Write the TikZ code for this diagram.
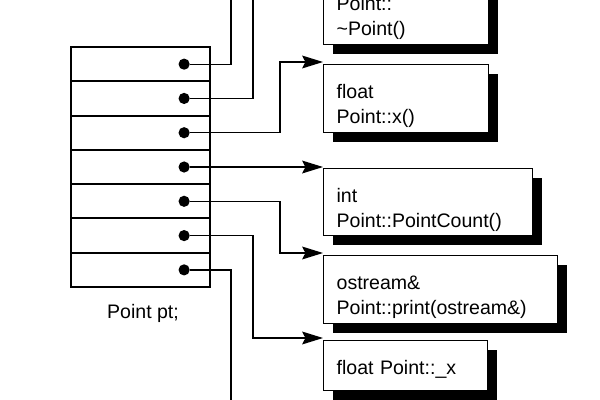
\documentclass[tikz,border=0pt]{standalone}
\usepackage{fontspec}
\setmainfont{Liberation Sans}
\usetikzlibrary{arrows.meta,shadows}

\begin{document}
\begin{tikzpicture}[x=0.025cm,y=-0.025cm,
		font=\fontsize{13.9}{17.4}\selectfont,
		slot/.style={draw,line width=1.4pt,minimum width=3.475cm,minimum height=0.857cm,inner sep=0pt},
		dot/.style={circle,fill,inner sep=0pt,minimum size=0.28cm},
		fn/.style={draw,line width=0.9pt,fill=white,anchor=north west,align=left,inner xsep=0.325cm,inner ysep=0pt,text height=0.85cm,text depth=0.85cm,drop shadow={shadow xshift=0.24cm,shadow yshift=-0.24cm,fill=black,opacity=1}},
		ptr/.style={line width=0.9pt},
		tip/.style={ptr,-{Stealth[length=0.52cm,width=0.32cm,inset=0.08cm]}}]
		\useasboundingbox (0,0) rectangle (600,400);
		\clip (0,0) rectangle (600,400);
		\foreach \i in {1,...,7}{
			\node[slot] (r\i) at (140.5,{47+34.29*(\i-0.5)}) {};
			\node[dot] (d\i) at ([xshift=1.09cm]r\i.center) {};
		}
		\node (pt) at (143,313) {Point pt;};
		\node[fn,text width=3.475cm] (b1) at (323,-24) {Point::\\\textasciitilde Point()};
		\node[fn,text width=3.475cm] (b2) at (323,64) {float\\Point::x()};
		\node[fn,text width=4.575cm,text depth=0.825cm] (b3) at (323,168) {int\\Point::PointCount()};
		\node[fn,text width=5.2cm] (b4) at (323,255) {ostream\&\\Point::print(ostream\&)};
		\node[fn,text width=3.45cm,text depth=0.4cm] (b5) at (323,340) {float Point::\_x};
		\coordinate (up1) at (231,-5);
		\coordinate (up2) at (253,-5);
		\coordinate (dn7) at (231,405);
		\draw[ptr] (d1) -| (up1);
		\draw[ptr] (d2) -| (up2);
		\draw[tip] (d3) -- ++(96,0) |- ([yshift=0.05cm]b2.north west);
		\draw[tip] (d4) -- (d4 -| b3.west);
		\draw[tip] (d5) -- ++(96,0) |- ([yshift=0.05cm]b4.north west);
		\draw[tip] (d6) -- ++(69,0) |- ([yshift=0.05cm]b5.north west);
		\draw[ptr] (d7) -| (dn7);
\end{tikzpicture}
\end{document}
